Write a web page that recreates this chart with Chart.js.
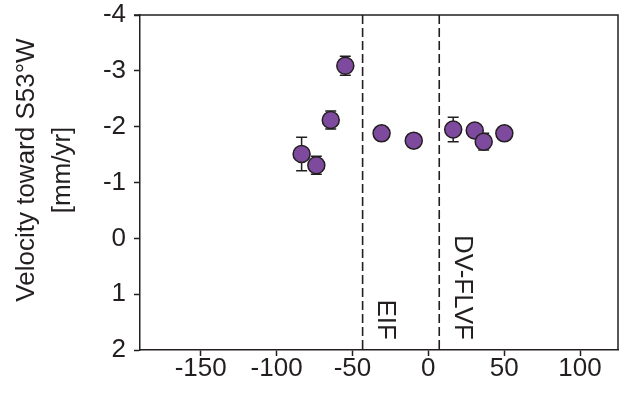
<!DOCTYPE html>
<html>
<head>
<meta charset="utf-8">
<script src="https://cdn.jsdelivr.net/npm/chart.js@4/dist/chart.umd.min.js"></script>
<style>
  html, body { margin: 0; padding: 0; background: #fff; }
  #wrap { width: 628px; height: 394px; }
</style>
</head>
<body>
<div id="wrap"><canvas id="chart" width="628" height="394"></canvas></div>
<script>
// distance along profile (km) and velocity toward S53W (mm/yr), with 1-sigma errors
const distance = [-83.5, -73.8, -64.3, -54.7, -30.8, -9.6, 16.4, 30.6, 36.5, 50.1];
const velocity = [-1.51, -1.31, -2.12, -3.09, -1.88, -1.75, -1.95, -1.93, -1.73, -1.88];
const velError = [0.30, 0.16, 0.16, 0.17, 0.10, 0.05, 0.22, 0.05, 0.15, 0.05];

// fault traces
const faultNames = ['EIF', 'DV-FLVF'];
const faultX = [-43.3, 7.2];

const xTicks = [-150, -100, -50, 0, 50, 100];
const yTicks = [-4, -3, -2, -1, 0, 1, 2];

const ink = '#231f20';
const purple = '#7d4a9d';
const font = '"Liberation Sans", Arial, Helvetica, sans-serif';
const fsize = 26;

// error bars, drawn behind the circles
const errorBars = {
    id: 'errorBars',
    beforeDatasetsDraw(chart) {
        const { ctx, scales: { x, y } } = chart;
        ctx.save();
        ctx.strokeStyle = ink;
        ctx.lineWidth = 1.5;
        distance.forEach((d, i) => {
            const px = x.getPixelForValue(d);
            const top = y.getPixelForValue(velocity[i] - velError[i]);
            const bot = y.getPixelForValue(velocity[i] + velError[i]);
            ctx.beginPath();
            ctx.moveTo(px, top); ctx.lineTo(px, bot);
            ctx.moveTo(px - 5.5, top); ctx.lineTo(px + 5.5, top);
            ctx.moveTo(px - 5.5, bot); ctx.lineTo(px + 5.5, bot);
            ctx.stroke();
        });
        ctx.restore();
    }
};

// dashed fault lines and their rotated names
const faults = {
    id: 'faults',
    beforeDatasetsDraw(chart) {
        const { ctx, chartArea: a, scales: { x, y } } = chart;
        ctx.save();
        ctx.strokeStyle = ink;
        ctx.lineWidth = 1.6;
        ctx.setLineDash([9, 4]);
        faultX.forEach(fx => {
            const px = x.getPixelForValue(fx);
            ctx.beginPath();
            ctx.moveTo(px, a.top); ctx.lineTo(px, a.bottom);
            ctx.stroke();
        });
        ctx.setLineDash([]);
        ctx.fillStyle = ink;
        ctx.font = fsize + 'px ' + font;
        ctx.textAlign = 'right';
        ctx.textBaseline = 'middle';
        faultX.forEach((fx, i) => {
            const px = x.getPixelForValue(fx) + 23;
            const py = y.getPixelForValue(1.82);
            ctx.save();
            ctx.translate(px, py);
            ctx.rotate(Math.PI / 2);
            ctx.fillText(faultNames[i], 0, 0);
            ctx.restore();
        });
        ctx.restore();
    },
    afterDraw(chart) {
        // close the box on top and right
        const { ctx, chartArea: a } = chart;
        ctx.save();
        ctx.strokeStyle = ink;
        ctx.lineWidth = 1.5;
        ctx.beginPath();
        ctx.moveTo(a.left - 6, a.top); ctx.lineTo(a.right, a.top); ctx.lineTo(a.right, a.bottom);
        ctx.stroke();
        // y title, two lines
        ctx.fillStyle = ink;
        ctx.font = fsize + 'px ' + font;
        ctx.textAlign = 'center';
        ctx.textBaseline = 'middle';
        [['Velocity toward S53\u00b0W', 27], ['[mm/yr]', 63]].forEach(([t, tx]) => {
            ctx.save();
            ctx.translate(tx, 170);
            ctx.rotate(-Math.PI / 2);
            ctx.fillText(t, 0, 0);
            ctx.restore();
        });
        ctx.restore();
    }
};

function main() {
    const canvas = document.querySelector('#chart');

    new Chart(canvas.getContext('2d'), {
        type: 'scatter',
        data: {
            datasets: [{
                data: distance.map((d, i) => ({ x: d, y: velocity[i] })),
                backgroundColor: purple,
                borderColor: ink,
                borderWidth: 1.5,
                pointRadius: 8.5,
                pointHoverRadius: 8.5
            }]
        },
        options: {
            responsive: false,
            animation: false,
            devicePixelRatio: 1,
            layout: { padding: { top: 15, right: 8, left: 0, bottom: 0 } },
            plugins: { legend: { display: false }, tooltip: { enabled: false } },
            scales: {
                x: {
                    type: 'linear',
                    min: -190,
                    max: 125,
                    afterBuildTicks: s => { s.ticks = xTicks.map(v => ({ value: v })); },
                    afterFit: s => { s.height = 44; s.paddingLeft = 0; s.paddingRight = 0; },
                    grid: { drawOnChartArea: false, tickLength: 6, tickWidth: 1.5, tickColor: ink },
                    border: { color: ink, width: 1.5 },
                    ticks: { color: ink, font: { family: font, size: fsize }, padding: -3, maxRotation: 0 }
                },
                y: {
                    type: 'linear',
                    reverse: true,
                    min: -4,
                    max: 2,
                    afterBuildTicks: s => { s.ticks = yTicks.map(v => ({ value: v })); },
                    afterFit: s => { s.width = 140; s.paddingTop = 0; s.paddingBottom = 0; },
                    grid: { drawOnChartArea: false, tickLength: 6, tickWidth: 1.5, tickColor: ink },
                    border: { color: ink, width: 1.5 },
                    ticks: { color: ink, font: { family: font, size: fsize }, padding: 8 }
                }
            }
        },
        plugins: [errorBars, faults]
    });
}

main();
</script>
</body>
</html>
